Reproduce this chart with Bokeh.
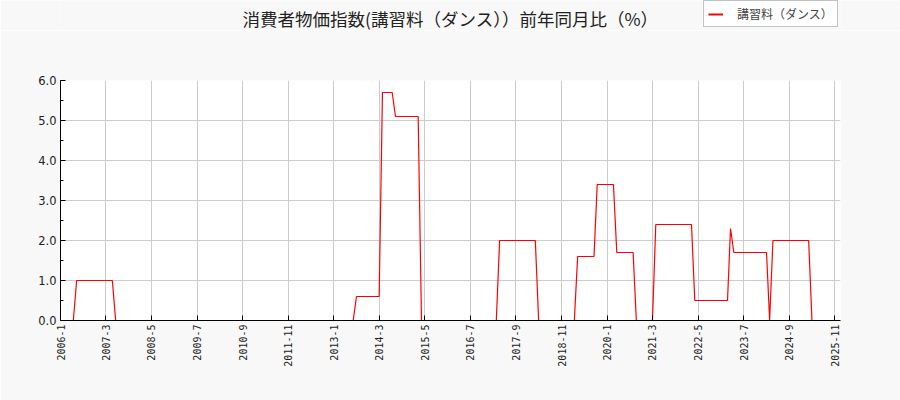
from datetime import datetime

from bokeh.embed import file_html
from bokeh.layouts import column
from bokeh.models import (FixedTicker, Label, Legend, LegendItem, PrintfTickFormatter,
                          Range1d, SingleIntervalTicker)
from bokeh.plotting import figure
from bokeh.resources import INLINE

# 前年同月比 (%), one row per year, Jan..Dec
years = list(range(2006, 2026))
yoy = [
    [0.0, 0.0, 0.0, 0.0, 0.0, 1.0, 1.0, 1.0, 1.0, 1.0, 1.0, 1.0],  # 2006
    [1.0, 1.0, 1.0, 1.0, 1.0, 0.0, 0.0, 0.0, 0.0, 0.0, 0.0, 0.0],  # 2007
    [0.0, 0.0, 0.0, 0.0, 0.0, 0.0, 0.0, 0.0, 0.0, 0.0, 0.0, 0.0],  # 2008
    [0.0, 0.0, 0.0, 0.0, 0.0, 0.0, 0.0, 0.0, 0.0, 0.0, 0.0, 0.0],  # 2009
    [0.0, 0.0, 0.0, 0.0, 0.0, 0.0, 0.0, 0.0, 0.0, 0.0, 0.0, 0.0],  # 2010
    [0.0, 0.0, 0.0, 0.0, 0.0, 0.0, 0.0, 0.0, 0.0, 0.0, 0.0, 0.0],  # 2011
    [0.0, 0.0, 0.0, 0.0, 0.0, 0.0, 0.0, 0.0, 0.0, 0.0, 0.0, 0.0],  # 2012
    [0.0, 0.0, 0.0, 0.0, 0.0, 0.0, 0.0, 0.6, 0.6, 0.6, 0.6, 0.6],  # 2013
    [0.6, 0.6, 0.6, 5.7, 5.7, 5.7, 5.7, 5.1, 5.1, 5.1, 5.1, 5.1],  # 2014
    [5.1, 5.1, 5.1, 0.0, 0.0, 0.0, 0.0, 0.0, 0.0, 0.0, 0.0, 0.0],  # 2015
    [0.0, 0.0, 0.0, 0.0, 0.0, 0.0, 0.0, 0.0, 0.0, 0.0, 0.0, 0.0],  # 2016
    [0.0, 0.0, 0.0, 2.0, 2.0, 2.0, 2.0, 2.0, 2.0, 2.0, 2.0, 2.0],  # 2017
    [2.0, 2.0, 2.0, 0.0, 0.0, 0.0, 0.0, 0.0, 0.0, 0.0, 0.0, 0.0],  # 2018
    [0.0, 0.0, 0.0, 1.6, 1.6, 1.6, 1.6, 1.6, 1.6, 3.4, 3.4, 3.4],  # 2019
    [3.4, 3.4, 3.4, 1.7, 1.7, 1.7, 1.7, 1.7, 1.7, 0.0, 0.0, 0.0],  # 2020
    [0.0, 0.0, 0.0, 2.4, 2.4, 2.4, 2.4, 2.4, 2.4, 2.4, 2.4, 2.4],  # 2021
    [2.4, 2.4, 2.4, 0.5, 0.5, 0.5, 0.5, 0.5, 0.5, 0.5, 0.5, 0.5],  # 2022
    [0.5, 0.5, 2.3, 1.7, 1.7, 1.7, 1.7, 1.7, 1.7, 1.7, 1.7, 1.7],  # 2023
    [1.7, 1.7, 0.0, 2.0, 2.0, 2.0, 2.0, 2.0, 2.0, 2.0, 2.0, 2.0],  # 2024
    [2.0, 2.0, 2.0, 0.0, 0.0, 0.0, 0.0, 0.0, 0.0, 0.0, 0.0],       # 2025
]

tick_labels = ["2006-1", "2007-3", "2008-5", "2009-7", "2010-9", "2011-11",
               "2013-1", "2014-3", "2015-5", "2016-7", "2017-9", "2018-11",
               "2020-1", "2021-3", "2022-5", "2023-7", "2024-9", "2025-11"]

series_name = "講習料（ダンス）"
title = "消費者物価指数(講習料（ダンス））前年同月比（%）"

BG = "#f8f8f8"

dates = []
values = []
for y, row in zip(years, yoy):
    for m, v in enumerate(row):
        dates.append(datetime(y, m + 1, 1))
        values.append(v)


def to_ms(label):
    y, m = label.split("-")
    return (datetime(int(y), int(m), 1) - datetime(1970, 1, 1)).total_seconds() * 1000


tick_ms = [to_ms(t) for t in tick_labels]

# header strip: title + legend (kept outside the plot frame like the original)
# note: column() lines up its frame with the main plot's (60px borders)
head = figure(
    width=900, height=30, title=None,
    x_range=Range1d(0, 1), y_range=Range1d(0, 1),
    x_axis_location=None, y_axis_location=None,
    output_backend="svg", toolbar_location=None,
    min_border=0,
)
head.background_fill_color = BG
head.border_fill_color = BG
head.outline_line_color = None
head.grid.visible = False

head.add_layout(Label(x=390, y=12, x_units="screen", y_units="screen", text=title,
                      text_align="center", text_baseline="middle",
                      text_font="Noto Sans CJK JP", text_font_size="17.5px",
                      text_color="#222222"))

# same series, only used as the legend key (falls outside the header's ranges)
key = head.line(dates, values, line_color="red", line_width=2)
legend = Legend(items=[LegendItem(label=series_name, renderers=[key])],
                location=(643, 3))
legend.border_line_color = "#888888"
legend.background_fill_color = "white"
legend.background_fill_alpha = 1.0
legend.label_text_font = "Noto Sans CJK JP"
legend.label_text_font_size = "12px"
legend.glyph_width = 15
legend.glyph_height = 12
legend.label_standoff = 14
legend.padding = 4
legend.margin = 0
legend.label_height = 12
head.add_layout(legend)

fig = figure(
    width=900, height=370,
    x_axis_type="datetime",
    x_range=Range1d(datetime(2006, 1, 1), datetime(2025, 12, 24)),
    y_range=Range1d(0, 6),
    output_backend="svg",
    toolbar_location=None,
    min_border_left=60, min_border_right=60,
    min_border_top=50, min_border_bottom=80,
)
fig.border_fill_color = BG
fig.background_fill_color = "white"
fig.outline_line_color = None

r = fig.line(dates, values, line_color="red", line_width=1.2)

# axes
fig.xaxis.ticker = FixedTicker(ticks=tick_ms)
fig.xaxis.major_label_overrides = {t: lab for t, lab in zip(tick_ms, tick_labels)}
fig.xaxis.major_label_orientation = 1.5708
fig.xaxis.major_label_text_font = "DejaVu Sans Mono"
fig.xaxis.major_label_text_font_size = "10px"
fig.xgrid.ticker = FixedTicker(ticks=tick_ms)

fig.yaxis.ticker = SingleIntervalTicker(interval=1, num_minor_ticks=2)
fig.yaxis.formatter = PrintfTickFormatter(format="%.1f")
fig.yaxis.major_label_text_font = "DejaVu Sans"
fig.yaxis.major_label_text_font_size = "11.5px"

for ax in (fig.xaxis, fig.yaxis):
    ax.axis_line_color = "black"
    ax.major_tick_in = 5
    ax.major_tick_out = 0
    ax.minor_tick_in = 3
    ax.minor_tick_out = 0
    ax.major_label_text_color = "#222222"
    ax.major_label_standoff = 4
fig.xaxis.minor_tick_line_color = None

fig.grid.grid_line_color = "#cccccc"
fig.grid.grid_line_width = 1

p = column(head, fig, spacing=0)

open("out.html", "w").write(file_html(p, INLINE))
